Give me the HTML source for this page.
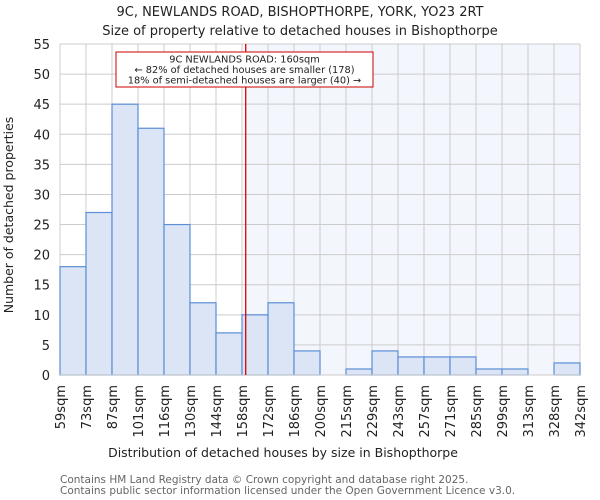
<!DOCTYPE html>
<html><head><meta charset="utf-8"><style>
body{margin:0;background:#fff}
svg{display:block;font-family:"DejaVu Sans","Liberation Sans",sans-serif}
</style></head><body>
<svg id="c" width="600" height="500">
<text x="300" y="16" text-anchor="middle" font-size="13" fill="#222">9C, NEWLANDS ROAD, BISHOPTHORPE, YORK, YO23 2RT</text>
<text x="300" y="35" text-anchor="middle" font-size="13" fill="#222">Size of property relative to detached houses in Bishopthorpe</text>
<g id="plot"></g>
<text x="283" y="457" text-anchor="middle" font-size="12.5" fill="#222">Distribution of detached houses by size in Bishopthorpe</text>
<text transform="translate(13,215) rotate(-90)" text-anchor="middle" font-size="12.5" fill="#222">Number of detached properties</text>
<text x="60" y="483" font-size="10.5" fill="#666">Contains HM Land Registry data © Crown copyright and database right 2025.</text>
<text x="60" y="494" font-size="10.5" fill="#666">Contains public sector information licensed under the Open Government Licence v3.0.</text>
</svg>
<script>
const categories=["59sqm","73sqm","87sqm","101sqm","116sqm","130sqm","144sqm","158sqm","172sqm","186sqm","200sqm","215sqm","229sqm","243sqm","257sqm","271sqm","285sqm","299sqm","313sqm","328sqm","342sqm"];
const binEdges=[59,73,87,101,116,130,144,158,172,186,200,215,229,243,257,271,285,299,313,328,342];
const counts=[18,27,45,41,25,12,7,10,12,4,0,1,4,3,3,3,1,1,0,2];
const yTicks=[0,5,10,15,20,25,30,35,40,45,50,55];
const propertySize=160;
const L=60,R=580,T=44,B=375,YMAX=55;
const NS="http://www.w3.org/2000/svg";
const g=document.getElementById('plot');
const xi=i=>L+(R-L)*i/counts.length;
function xv(v){for(let i=0;i<binEdges.length-1;i++){if(v<=binEdges[i+1])return xi(i)+(v-binEdges[i])/(binEdges[i+1]-binEdges[i])*(xi(i+1)-xi(i));}return R;}
const y=v=>B-(B-T)*v/YMAX;
function el(t,a){const e=document.createElementNS(NS,t);for(const k in a)e.setAttribute(k,a[k]);g.appendChild(e);return e;}
const mx=xv(propertySize);
let s=el('rect',{x:mx,y:T,width:R-mx,height:B-T,fill:'#f3f6fd'});


yTicks.forEach(t=>{
 let l=el('line',{x1:L,x2:R,y1:y(t),y2:y(t),stroke:'#ccc','stroke-width':1});
 
 
 let tx=el('text',{x:L-10,y:y(t)+5,'text-anchor':'end','font-size':13,fill:'#222'});
 tx.textContent=t;
 
 
});
categories.forEach((c,i)=>{
 let l=el('line',{x1:xi(i),x2:xi(i),y1:T,y2:B,stroke:'#ccc','stroke-width':1});
 
 
 let tx=el('text',{transform:`translate(${xi(i)+5},${B+10}) rotate(-90)`,'text-anchor':'end','font-size':13,fill:'#222'});
 tx.textContent=c;
 
 
});
counts.forEach((v,i)=>{
 if(v<=0)return;
 let b=el('rect',{x:xi(i),y:y(v),width:xi(i+1)-xi(i),height:B-y(v),fill:'#dbe5f5',stroke:'#5b8ed6','stroke-width':1.2});
 
 
});
let ax=el('line',{x1:L,x2:R,y1:B,y2:B,stroke:'#ccc'});


let m=el('line',{x1:mx,x2:mx,y1:T,y2:B,stroke:'#dd0000','stroke-width':1.3});


let box=el('rect',{x:116,y:52,width:257,height:35,fill:'#fff',stroke:'#cc0000','stroke-width':1});


["9C NEWLANDS ROAD: 160sqm","← 82% of detached houses are smaller (178)","18% of semi-detached houses are larger (40) →"].forEach((t,i)=>{
 let tx=el('text',{x:244.5,y:62.5+i*10.5,'text-anchor':'middle','font-size':9.8,fill:'#222'});
 tx.textContent=t;
 
 
});
</script>
</body></html>
